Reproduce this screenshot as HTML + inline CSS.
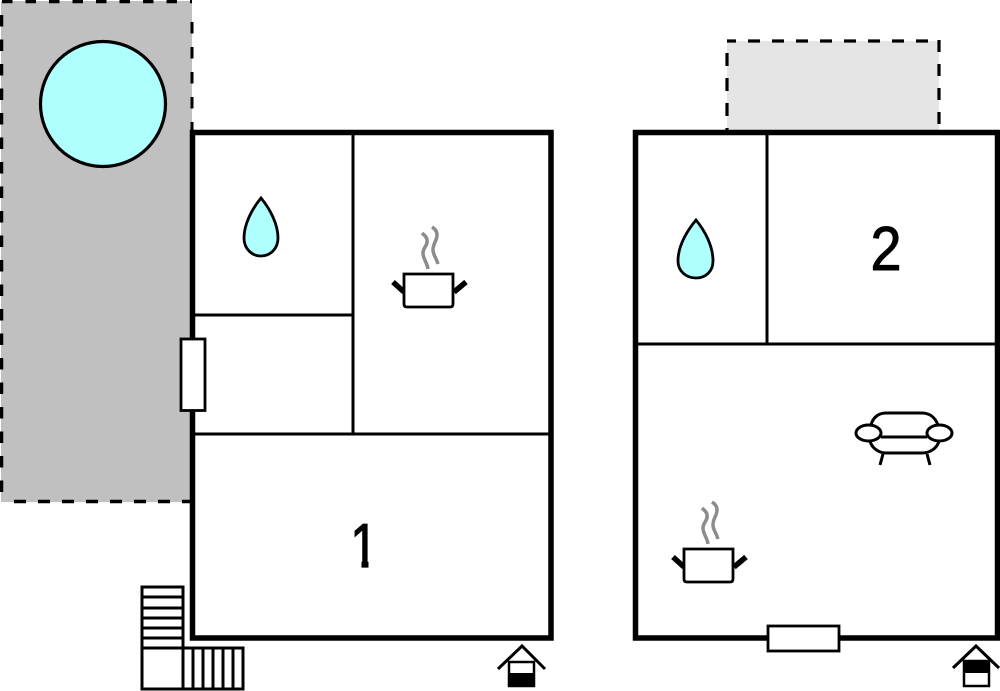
<!DOCTYPE html>
<html>
<head>
<meta charset="utf-8">
<style>
html,body{margin:0;padding:0;background:#fff;width:1000px;height:691px;overflow:hidden}
svg{display:block}
text{font-family:"Liberation Sans",sans-serif;fill:#000}
</style>
</head>
<body>
<svg width="1000" height="691" viewBox="0 0 1000 691" xmlns="http://www.w3.org/2000/svg">
<defs>
<g id="pot">
<path d="M12 42 L23 52 M85 42 L73 52" stroke="#000" stroke-width="5.500" fill="none"/>
<path d="M23 34 H72 V64 Q72 67 69 67 H26 Q23 67 23 64 Z" fill="#fff" stroke="#000" stroke-width="2.800"/>
<path d="M47 29 C46 22 42 19 42 13 C42 7 47 6 46 0 C46 -3 43 -5 41 -7 M57 24 C55 17 52 15 52 10 C52 3 56 1 56 -5 C56 -9 54 -11 51 -13" fill="none" stroke="#8c8c8c" stroke-width="3.500"/>
</g>
</defs>

<!-- left terrace -->
<rect x="1" y="1" width="191" height="501" fill="#c0c0c0"/>
<path d="M1 1.500 H192" fill="none" stroke="#000" stroke-width="3.500" stroke-dasharray="10.500 13" stroke-dashoffset="-1"/>
<path d="M192 22 V130" fill="none" stroke="#000" stroke-width="3" stroke-dasharray="11.500 13.500"/>
<path d="M1.500 15 V502" fill="none" stroke="#000" stroke-width="3.500" stroke-dasharray="11.500 13"/>
<path d="M14 501.500 H192" fill="none" stroke="#000" stroke-width="3.500" stroke-dasharray="12 12"/>
<circle cx="103" cy="104" r="62.500" fill="#b0ffff" stroke="#000" stroke-width="3.200"/>

<!-- right terrace -->
<rect x="727" y="41" width="212" height="89" fill="#e5e5e5"/>
<path d="M727 41 H939" fill="none" stroke="#000" stroke-width="3.200" stroke-dasharray="12 12" stroke-dashoffset="3"/>
<path d="M727 53 V130" fill="none" stroke="#000" stroke-width="3.200" stroke-dasharray="13 12"/>
<path d="M939 40 V130" fill="none" stroke="#000" stroke-width="3.200" stroke-dasharray="12 12"/>

<!-- building 1 -->
<rect x="192.500" y="132.500" width="358.500" height="505.500" fill="#fff" stroke="#000" stroke-width="5.500"/>
<path d="M353 132 V434 M192 315 H353 M192 434 H550" fill="none" stroke="#000" stroke-width="3"/>

<!-- building 2 -->
<rect x="635.500" y="132.500" width="362" height="505.500" fill="#fff" stroke="#000" stroke-width="5.500"/>
<path d="M767 132 V344 M635 344 H997" fill="none" stroke="#000" stroke-width="3"/>

<!-- windows/doors -->
<rect x="181" y="339" width="24" height="71.500" fill="#fff" stroke="#000" stroke-width="2.800"/>
<rect x="768" y="626" width="71" height="25" fill="#fff" stroke="#000" stroke-width="2.800"/>

<!-- drops -->
<path d="M261 198 C252 209 244 224 244 238 C244 249 252 256 261 256 C270 256 278 249 278 238 C278 224 270 209 261 198 Z" fill="#b0ffff" stroke="#000" stroke-width="2.800"/>
<path d="M696 220 C687 231 678 246 678 261 C678 271 686 278 696 278 C706 278 713 271 713 261 C713 246 705 231 696 220 Z" fill="#b0ffff" stroke="#000" stroke-width="2.800"/>

<!-- numbers -->
<text transform="translate(364 567) scale(0.8 1)" x="0" y="0" font-size="62" text-anchor="middle" stroke="#000" stroke-width="1.200">1</text>
<rect x="342" y="561" width="19.500" height="9" fill="#fff"/>
<rect x="368.500" y="561" width="19.500" height="9" fill="#fff"/>
<text transform="translate(886 270) scale(0.9 1)" x="0" y="0" font-size="62" text-anchor="middle" stroke="#000" stroke-width="1">2</text>

<!-- pots -->
<use href="#pot" transform="translate(381 240)"/>
<use href="#pot" transform="translate(661 515)"/>

<!-- sofa -->
<g fill="none" stroke="#000" stroke-width="3">
<path d="M871 425 C873 417 879 413 886 413 H922 C929 413 935 417 938 425"/>
<path d="M870 441 C872 449 880 453 886 453 H922 C929 453 937 449 939 441"/>
<path d="M881 437 H927"/>
<ellipse cx="868.500" cy="433" rx="12.500" ry="8" fill="#fff"/>
<ellipse cx="939.500" cy="433" rx="12.500" ry="8" fill="#fff"/>
<path d="M883 454 L880 465 M927 454 L930 465"/>
</g>

<!-- stairs -->
<g fill="none" stroke="#000" stroke-width="3">
<rect x="142" y="587" width="41" height="102"/>
<path d="M142 597 H183 M142 608 H183 M142 618 H183 M142 628 H183 M142 638 H183 M142 648 H183"/>
<rect x="183" y="648" width="60" height="41"/>
<path d="M193 648 V689 M203 648 V689 M213 648 V689 M223 648 V689 M233 648 V689"/>
</g>

<!-- entrance markers -->
<g>
<path d="M498 669 L522 646 L545 669" fill="none" stroke="#000" stroke-width="3"/>
<rect x="509" y="662" width="25" height="24" fill="#fff" stroke="#000" stroke-width="2.500"/>
<rect x="509" y="673" width="25" height="13" fill="#000"/>
</g>
<g>
<path d="M953 668 L976 646 L999 668" fill="none" stroke="#000" stroke-width="3"/>
<rect x="964" y="661" width="25" height="25" fill="#fff" stroke="#000" stroke-width="2.500"/>
<rect x="964" y="661" width="25" height="12" fill="#000"/>
</g>
</svg>
</body>
</html>
